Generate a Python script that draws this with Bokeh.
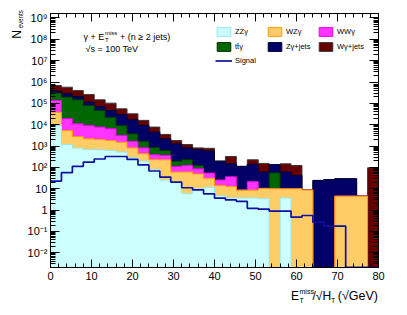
import numpy as np
from bokeh.plotting import figure
from bokeh.models import (FixedTicker, LinearAxis, Range1d, Label, Legend, Title,
                          LegendItem, CustomJSTickFormatter)
from bokeh.embed import file_html
from bokeh.resources import INLINE

# ---------------- data ----------------
x_lo, x_hi, n_bins = 0.0, 80.0, 30          # 30 bins of E_T^miss/sqrt(H_T)
y_lo_exp, y_hi_exp = -2.69, 9.21            # log10 range of the y axis

zz_gamma = [9270, 1180, 802, 684, 670, 625, 521, 283, 197, 80, 25.6, 20.5, 6.0, 9.9, 11.6,
            4.7, 3.7, 3.7, 3.7, 3.4, 0, 3.7, 0, 0, 0, 0, 0, 0, 0, 0]
wz_gamma = [29300, 4200, 1980, 1490, 1360, 1190, 990, 537, 239, 151, 200, 40, 55, 39.6, 19.2,
            9.6, 9.0, 4.9, 4.9, 7.0, 9.9, 6.2, 9.9, 8.7, 0, 0, 4.5, 4.5, 4.5, 0]
ww_gamma = [98500, 13700, 8300, 7100, 5700, 4630, 1600, 836, 384, 158, 138, 51, 62, 35.8, 23.4,
            11.3, 23.4, 0, 12.8, 0, 0, 0, 0, 0, 0, 0, 0, 0, 0, 0]
tt_gamma = [166000, 178000, 136000, 70400, 38500, 15900, 6150, 2090, 874, 470, 262, 85, 108, 37.2, 0,
            0, 0, 0, 0, 0, 45.6, 0, 0, 0, 0, 0, 0, 0, 0, 0]
zgamma_jets = [68800, 85900, 64000, 34700, 24900, 23900, 20800, 13300, 7570, 3630, 1550, 1065, 590, 548, 531,
               171, 111, 103, 119, 50, 78.5, 50.8, 32.4, 0, 24.5, 26.9, 24.9, 24.9, 0, 0]
wgamma_jets = [312000, 288000, 186000, 144500, 75800, 55900, 25400, 15200, 6690, 3240, 1330, 549, 360, 150, 198,
               0, 177, 0, 86, 93, 0, 86, 80, 0, 0, 0, 0, 0, 0, 95.5]
signal = [22.9, 56.8, 112, 176, 247, 324, 324, 236, 131, 67.9, 35.2, 20.5, 11.1, 8.85, 5.75,
          3.66, 2.99, 2.55, 1.21, 1.10, 0.90, 0.90, 0.466, 0.558, 0.270, 0.176, 0.176, 0, 0, 0]

bkg_names = ["ZZγ", "WZγ", "WWγ", "tt̄γ", "Zγ+jets", "Wγ+jets"]
bkg_series = [zz_gamma, wz_gamma, ww_gamma, tt_gamma, zgamma_jets, wgamma_jets]
bkg_fill = ["#ccffff", "#ffcc66", "#ff33ff", "#006600", "#000066", "#660000"]
bkg_line = ["#9be6ee", "#ff9900", "#ee00ee", "#003300", "#000033", "#3a3a3a"]
signal_name = "Signal"
signal_color = "#1010a0"

x_ticks = [0, 10, 20, 30, 40, 50, 60, 70, 80]
x_minor = list(range(0, 81, 2))
y_tick_exps = list(range(-2, 10))
y_tick_labels = ["10⁻²", "10⁻¹", "1", "10", "10²", "10³", "10⁴", "10⁵", "10⁶", "10⁷", "10⁸", "10⁹"]

FONT = "Liberation Sans"
NB = "\u00a0"

# ---------------- figure ----------------
y_min, y_max = 10 ** y_lo_exp, 10 ** y_hi_exp
FLOOR = y_min * 1e-2

p = figure(frame_width=328, frame_height=254, y_axis_type="log",
           x_range=Range1d(x_lo, x_hi), y_range=Range1d(y_min, y_max),
           output_backend="svg", toolbar_location=None, title=None,
           min_border_left=50, min_border_right=29, min_border_top=13, min_border_bottom=48)
p.xgrid.visible = False
p.ygrid.visible = False
p.outline_line_color = "black"
p.outline_line_width = 1
p.background_fill_color = "white"
p.border_fill_color = "white"

edges = np.linspace(x_lo, x_hi, n_bins + 1)
cum = np.cumsum(np.array(bkg_series, dtype=float), axis=0)
step_x = np.repeat(edges, 2)[1:-1]

# ROOT-like THStack drawing: highest cumulative first, each filled from the bottom
legend_renderers = {}
for k in reversed(range(len(bkg_series))):
    top = np.where(cum[k] > 0, cum[k], FLOOR)
    p.varea_step(x=edges, y1=np.full(edges.size, FLOOR), y2=np.append(top, top[-1]),
                 step_mode="after", fill_color=bkg_fill[k])
    p.line(step_x, np.repeat(top, 2), line_color=bkg_line[k], line_width=1)
    # hidden twin used only for the legend swatch (fill + border)
    legend_renderers[k] = p.quad(left=edges[:-1], right=edges[1:], bottom=FLOOR, top=top,
                                 fill_color=bkg_fill[k], line_color=bkg_line[k],
                                 line_width=1, visible=False)

sig = np.array(signal, dtype=float)
sig = np.where(sig > 0, sig, y_min * 1.01)
sig_r = p.line(step_x, np.repeat(sig, 2), line_color=signal_color, line_width=1.7)

# ---------------- axes ----------------
yfmt = CustomJSTickFormatter(args=dict(labels=y_tick_labels, exps=y_tick_exps), code="""
const e = Math.round(Math.log10(tick));
const i = exps.indexOf(e);
return i >= 0 ? labels[i] : "";
""")
blank = "return '';"
y_major = [10.0 ** e for e in y_tick_exps]
y_minor = [m * 10.0 ** e for e in range(-3, 10) for m in range(2, 10)]

def style(ax, major, minor):
    ax.major_tick_in = major
    ax.major_tick_out = 0
    ax.minor_tick_in = minor
    ax.minor_tick_out = 0
    ax.major_tick_line_color = "black"
    ax.minor_tick_line_color = "black"
    ax.axis_line_color = "black"
    ax.major_label_text_font = FONT
    ax.major_label_text_font_size = "11px"
    ax.major_label_text_color = "black"

xa = p.xaxis[0]
xa.ticker = FixedTicker(ticks=x_ticks, minor_ticks=x_minor)
style(xa, 8, 4)
xa.major_label_standoff = 4

ya = p.yaxis[0]
ya.ticker = FixedTicker(ticks=y_major, minor_ticks=y_minor)
ya.formatter = yfmt
style(ya, 9, 5)
ya.major_label_standoff = 3

top_ax = LinearAxis(ticker=FixedTicker(ticks=x_ticks, minor_ticks=x_minor),
                    formatter=CustomJSTickFormatter(code=blank))
style(top_ax, 8, 4)
top_ax.major_label_text_font_size = "0px"
top_ax.major_label_standoff = 0
p.add_layout(top_ax, "above")

right_ax = LinearAxis(ticker=FixedTicker(ticks=y_major, minor_ticks=y_minor),
                      formatter=CustomJSTickFormatter(code=blank))
style(right_ax, 9, 5)
right_ax.major_label_text_font_size = "0px"
right_ax.major_label_standoff = 0
p.add_layout(right_ax, "right")

# ---------------- axis titles (rows of side-panel titles) ----------------
TH = 1.17  # text-box height per px of font size

def row(side, text, size, h=0.0, align="left", offset=0.0):
    p.add_layout(Title(text=text, text_font=FONT, text_font_size=f"{size}px",
                       text_font_style="normal", text_color="black", align=align,
                       vertical_align="middle", offset=offset,
                       standoff=h - 2 - TH * size), side)

def spacer(side, h):
    row(side, NB, 1, h)

# x title: E_T^miss / sqrt(H_T) (sqrt(GeV))   (frame spans x 50..378 px)
spacer("below", 8.8)
row("below", "miss", 7, offset=249)
spacer("below", 4.3)
row("below", "E", 12, offset=240.5)
row("below", "/√H", 12, offset=262)
row("below", "(√GeV)", 12.5, align="right", offset=0.5)
spacer("below", 5.2)
row("below", "T" + NB * 14 + "T", 7, offset=249)

# y title N_events
spacer("left", 4.0)
row("left", "events", 6.3, align="right", offset=-3.5)
spacer("left", 4.2)
row("left", "N", 12, align="right", offset=16.5)

# ---------------- process label (inside frame) ----------------
FL, FB = 50.0, 267.0   # frame left / bottom in page pixels

def add_text(txt, sx, sy, size):
    p.add_layout(Label(x=sx - FL, y=FB - sy, x_units="screen", y_units="screen", text=txt,
                       text_font=FONT, text_font_size=f"{size}px",
                       text_align="left", text_baseline="alphabetic", text_color="black"))

add_text("γ + E", 83, 36, 9)
add_text("miss", 104.5, 32, 6)
add_text("T", 104.5, 39.5, 6)
add_text("+ (n ≥ 2 jets)", 119.5, 36, 9)
add_text("√s = 100 TeV", 85, 48, 9)

# ---------------- legend (one box per entry) ----------------
entries = [(bkg_names[k], legend_renderers[k]) for k in range(len(bkg_series))]
entries.append((signal_name, sig_r))
cols_sx = [215, 266, 317]
rows_bottom_sy = [37, 51.7, 65.5]
for i, (name, rend) in enumerate(entries):
    sx = cols_sx[i % 3]
    sy = rows_bottom_sy[i // 3]
    lg = Legend(items=[LegendItem(label=name, renderers=[rend])], orientation="horizontal",
                location=(sx - FL, FB - sy),
                glyph_width=17, glyph_height=11, label_standoff=3, label_width=10,
                label_height=11, spacing=0, padding=0, margin=0,
                label_text_font=FONT, label_text_font_size="7.5px", label_text_color="black",
                label_text_baseline="middle", border_line_color=None,
                background_fill_alpha=0, inactive_fill_alpha=0)
    p.add_layout(lg)

open("out.html", "w").write(file_html(p, INLINE))
